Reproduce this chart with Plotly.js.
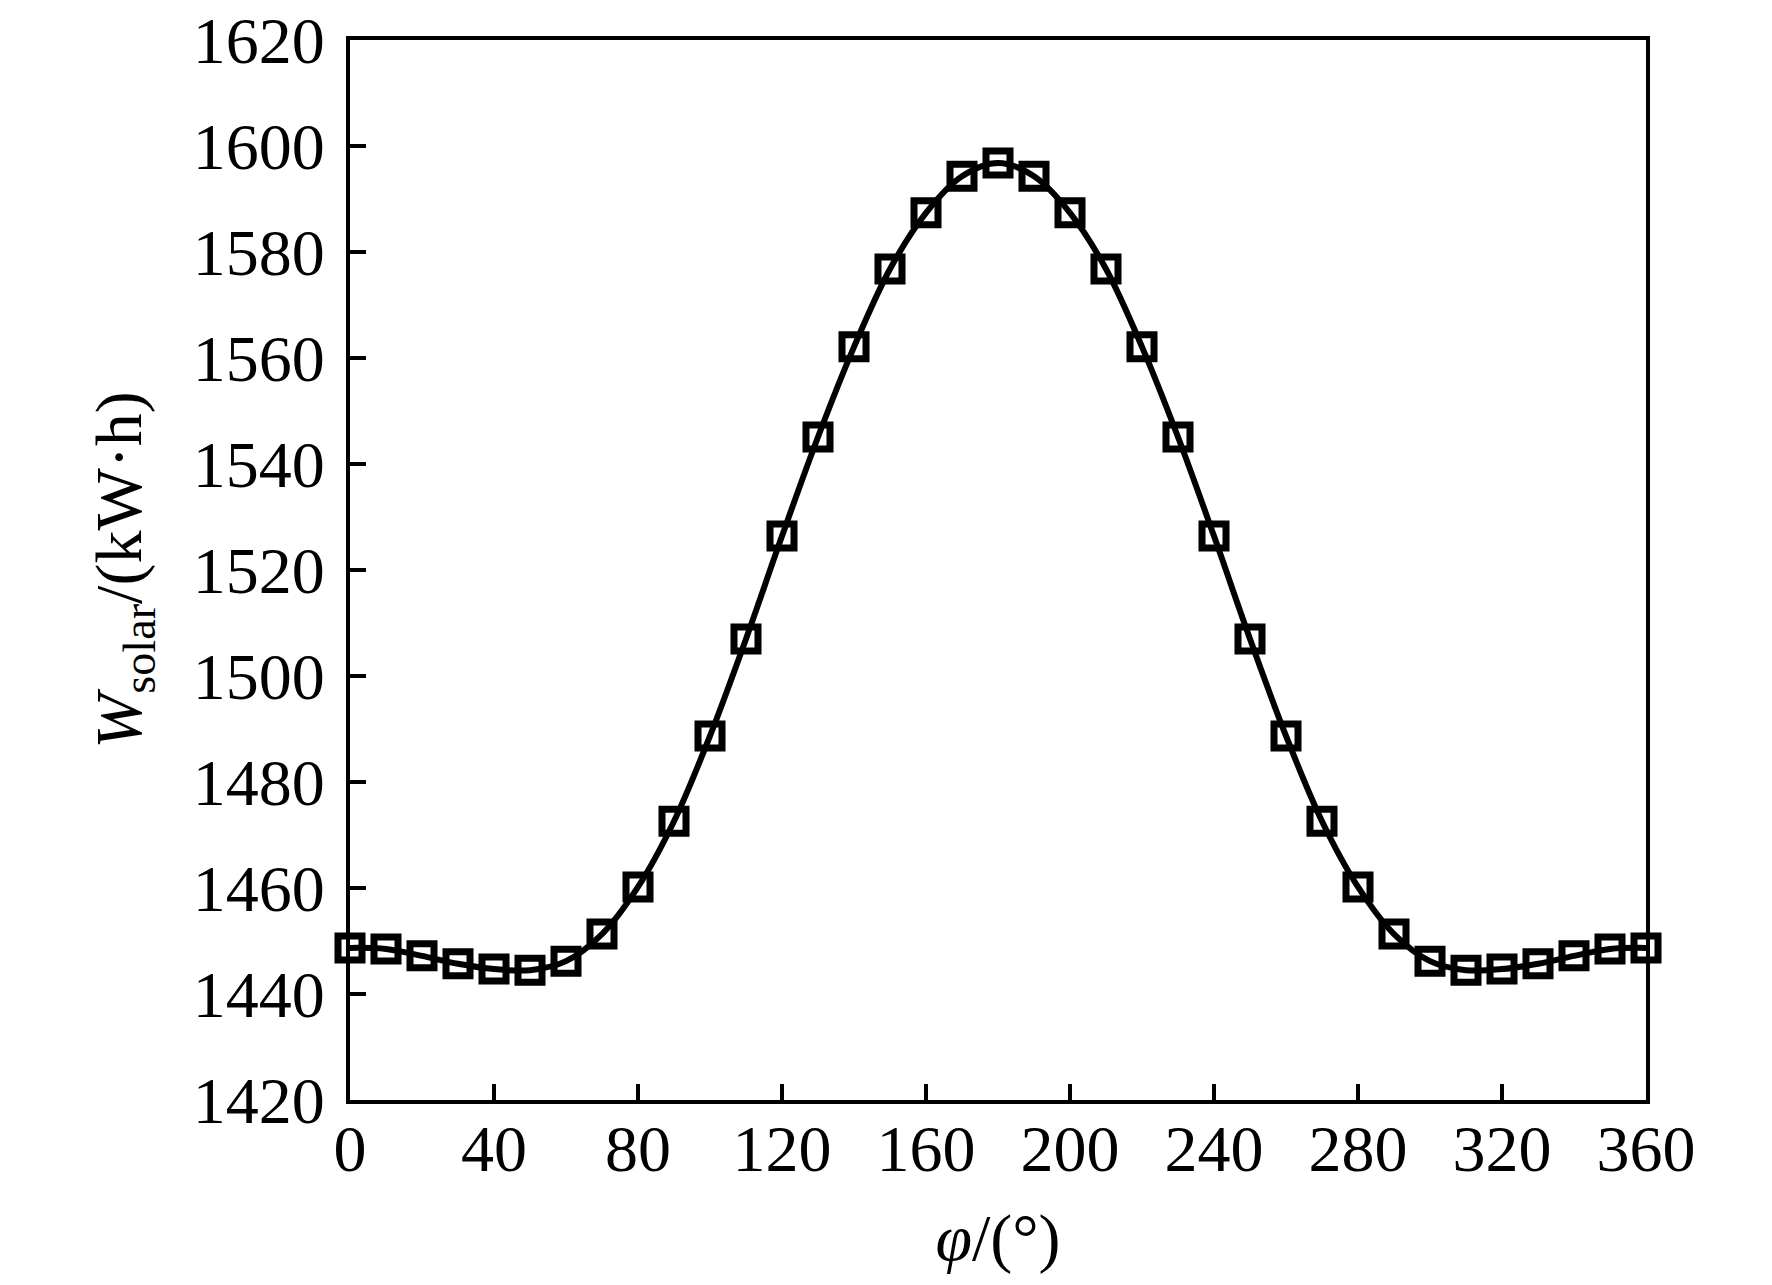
<!DOCTYPE html>
<html>
<head>
<meta charset="utf-8">
<script src="https://cdn.plot.ly/plotly-3.0.1.min.js"></script>
<style>
  body { margin: 0; background: #fff; }
  #chart { width: 1772px; height: 1285px; }
</style>
</head>
<body>
<div id="chart"></div>
<script>
// azimuth angle (deg) and annual solar energy (kW·h)
var phi = [0, 10, 20, 30, 40, 50, 60, 70, 80, 90, 100, 110, 120, 130, 140, 150, 160, 170, 180,
           190, 200, 210, 220, 230, 240, 250, 260, 270, 280, 290, 300, 310, 320, 330, 340, 350, 360];
var wSolar = [1448.7, 1448.5, 1447.2, 1445.7, 1444.7, 1444.5, 1446.2, 1451.3, 1460.2, 1472.6,
              1488.7, 1507.0, 1526.4, 1545.1, 1562.1, 1576.8, 1587.4, 1594.3, 1596.8,
              1594.3, 1587.4, 1576.8, 1562.1, 1545.1, 1526.4, 1507.0, 1488.7, 1472.6, 1460.2,
              1451.3, 1446.2, 1444.5, 1444.7, 1445.7, 1447.2, 1448.5, 1448.7];

var xTicks = [0, 40, 80, 120, 160, 200, 240, 280, 320, 360];
var yTicks = [1420, 1440, 1460, 1480, 1500, 1520, 1540, 1560, 1580, 1600, 1620];

var trace = {
    x: phi,
    y: wSolar,
    mode: 'lines+markers',
    type: 'scatter',
    cliponaxis: false,
    line: { color: 'black', width: 6, shape: 'spline', smoothing: 1 },
    marker: {
        symbol: 'square-open',
        size: 24,
        color: 'black',
        line: { color: 'black', width: 7 }
    }
};

var tickFont = { family: 'Liberation Serif, Times New Roman, serif', size: 66, color: 'black' };

var layout = {
    width: 1772,
    height: 1285,
    margin: { l: 350, r: 126, t: 40, b: 185 },
    paper_bgcolor: 'white',
    plot_bgcolor: 'white',
    showlegend: false,
    font: tickFont,
    xaxis: {
        range: [0, 360],
        tickvals: xTicks,
        ticks: 'inside',
        ticklen: 16,
        tickwidth: 4,
        tickcolor: 'black',
        ticklabelstandoff: -12,
        showline: true,
        linewidth: 4,
        linecolor: 'black',
        mirror: true,
        showgrid: false,
        zeroline: false,
        tickfont: tickFont,
        title: {
            text: '<i>φ</i>/(°)',
            font: tickFont,
            standoff: 31
        }
    },
    yaxis: {
        range: [1420, 1620],
        tickvals: yTicks,
        ticks: 'inside',
        ticklen: 16,
        tickwidth: 4,
        tickcolor: 'black',
        ticklabelstandoff: 8,
        showline: true,
        linewidth: 4,
        linecolor: 'black',
        mirror: true,
        showgrid: false,
        zeroline: false,
        tickfont: tickFont,
        title: {
            text: '<i>W</i><sub>solar</sub>/(kW·h)',
            font: tickFont,
            standoff: 31
        }
    }
};

Plotly.newPlot('chart', [trace], layout, { displayModeBar: false, staticPlot: true });
</script>
</body>
</html>
